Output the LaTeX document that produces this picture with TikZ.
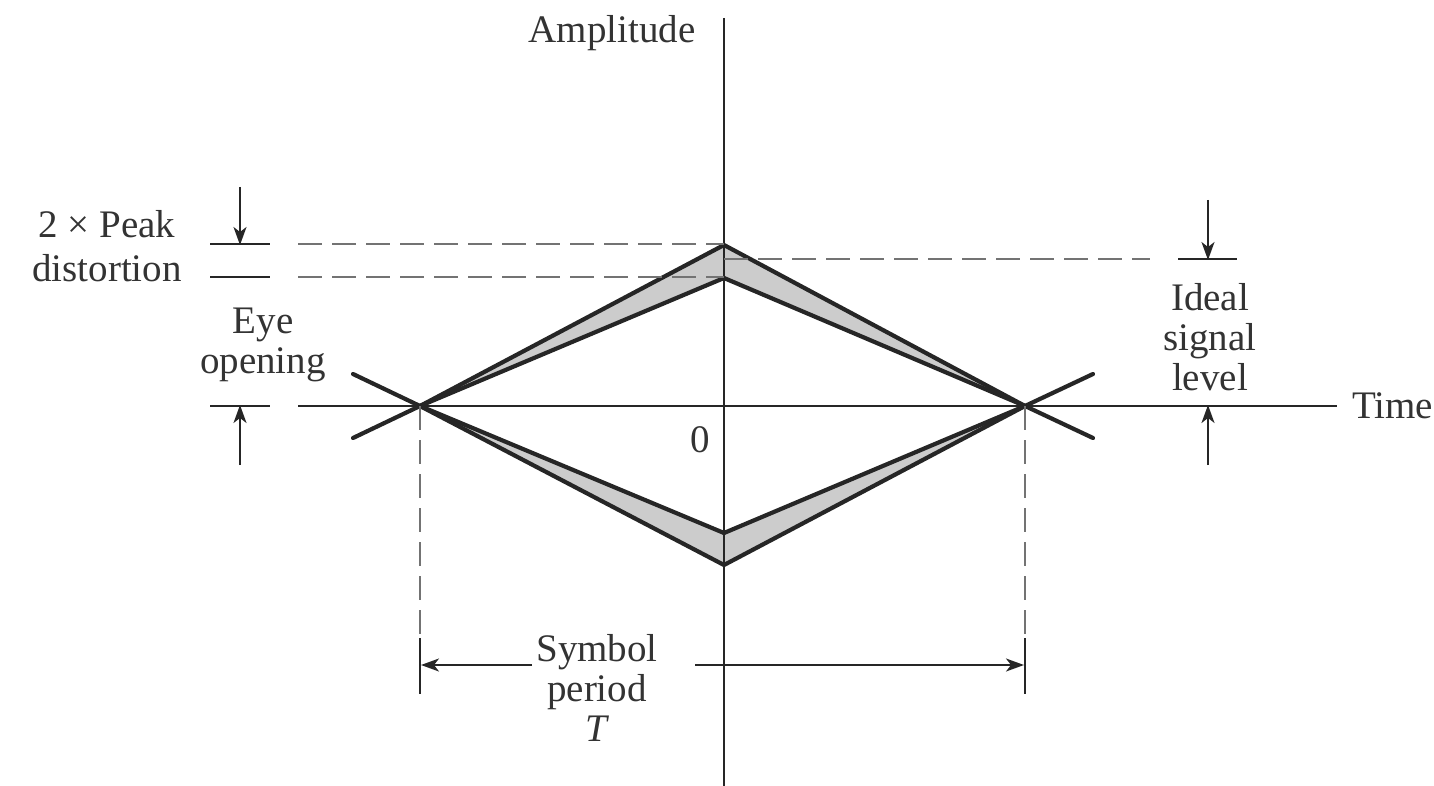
\documentclass[tikz,border=0pt]{standalone}
\usepackage{fontspec}
\setmainfont{Liberation Serif}
\usetikzlibrary{arrows.meta}
\begin{document}
\begin{tikzpicture}[x=1pt,y=-1pt,
  axis/.style={line width=2pt,black!85},
  eye/.style={line width=4.2pt,black!85,line cap=round,line join=miter},
  band/.style={fill=black!20},
  dashln/.style={line width=1.6pt,black!55,dash pattern=on 24pt off 10pt},
  tick/.style={line width=2.4pt,black!85},
  dimarrow/.style={line width=1.8pt,black!85,-{Stealth[length=18pt,width=13pt,inset=5pt]}},
  lbl/.style={font=\fontsize{39}{42}\selectfont,text=black!80,align=center,inner sep=0pt}]
\useasboundingbox (0,0) rectangle (1434,786);
% key points
\coordinate (L) at (420,406);
\coordinate (R) at (1025,406);
\coordinate (Ot) at (724,245);
\coordinate (It) at (724,278);
\coordinate (Ib) at (724,533);
\coordinate (Ob) at (724,565);
\coordinate (Lu) at (353,374);
\coordinate (Ld) at (353,438);
\coordinate (Ru) at (1093,374);
\coordinate (Rd) at (1093,438);
% bands
\fill[band] (L) -- (Ot) -- (R) -- (It) -- cycle;
\fill[band] (L) -- (Ob) -- (R) -- (Ib) -- cycle;
% axes
\coordinate (Yt) at (724,18);
\coordinate (Yb) at (724,786);
\coordinate (Xl) at (298,406);
\coordinate (Xr) at (1337,406);
\draw[axis] (Yt) -- (Yb);
\draw[axis] (Xl) -- (Xr);
% eye lines
\draw[eye] (L) -- (Ot) -- (R);
\draw[eye] (L) -- (It) -- (R);
\draw[eye] (L) -- (Ib) -- (R);
\draw[eye] (L) -- (Ob) -- (R);
\draw[eye] (Lu) -- (L) -- (Ld);
\draw[eye] (Ru) -- (R) -- (Rd);
% left dashed level lines and ticks
\coordinate (D1a) at (298,244); \coordinate (D1b) at (724,244);
\coordinate (D2a) at (298,277); \coordinate (D2b) at (724,277);
\draw[dashln] (D1a) -- (D1b);
\draw[dashln] (D2a) -- (D2b);
\coordinate (T1a) at (210,244); \coordinate (T1b) at (270,244);
\coordinate (T2a) at (210,277); \coordinate (T2b) at (270,277);
\coordinate (T3a) at (210,406); \coordinate (T3b) at (270,406);
\draw[tick] (T1a) -- (T1b);
\draw[tick] (T2a) -- (T2b);
\draw[tick] (T3a) -- (T3b);
\coordinate (A1s) at (240,187); \coordinate (A1e) at (240,245);
\coordinate (A2s) at (240,465); \coordinate (A2e) at (240,405);
\draw[dimarrow] (A1s) -- (A1e);
\draw[dimarrow] (A2s) -- (A2e);
% right dashed ideal level
\coordinate (D3a) at (724,259); \coordinate (D3b) at (1150,259);
\draw[dashln] (D3a) -- (D3b);
\coordinate (T4a) at (1178,259); \coordinate (T4b) at (1237,259);
\draw[tick] (T4a) -- (T4b);
\coordinate (A3s) at (1208,200); \coordinate (A3e) at (1208,260);
\coordinate (A4s) at (1208,465); \coordinate (A4e) at (1208,405);
\draw[dimarrow] (A3s) -- (A3e);
\draw[dimarrow] (A4s) -- (A4e);
% symbol period
\coordinate (V1) at (420,640); \coordinate (V2) at (1025,640);
\draw[dashln] (L) -- (V1);
\draw[dashln] (R) -- (V2);
\coordinate (V1b) at (420,694); \coordinate (V2b) at (1025,694);
\coordinate (V1a) at (420,638); \coordinate (V2a) at (1025,638);
\draw[tick] (V1a) -- (V1b);
\draw[tick] (V2a) -- (V2b);
\coordinate (P1s) at (532,665); \coordinate (P1e) at (421,665);
\coordinate (P2s) at (695,665); \coordinate (P2e) at (1024,665);
\draw[dimarrow] (P1s) -- (P1e);
\draw[dimarrow] (P2s) -- (P2e);
% labels
\node[lbl] (amp) at (612,33) {Amplitude};
\node[lbl] (time) at (1352,406) [anchor=west] {Time};
\node[lbl] (zero) at (700,440) {0};
\node[lbl,align=center] (pk) at (107,246) {2 × Peak\\[2pt]distortion};
\node[lbl] (eyeo) at (263,345) {Eye\\[-2pt]opening};
\node[lbl] (ideal) at (1210,337) {Ideal\\[-2pt]signal\\[-2pt]level};
\node[lbl] (sym) at (597,688) {Symbol\\[-2pt]period\\[-2pt]\textit{T}};
\end{tikzpicture}
\end{document}
